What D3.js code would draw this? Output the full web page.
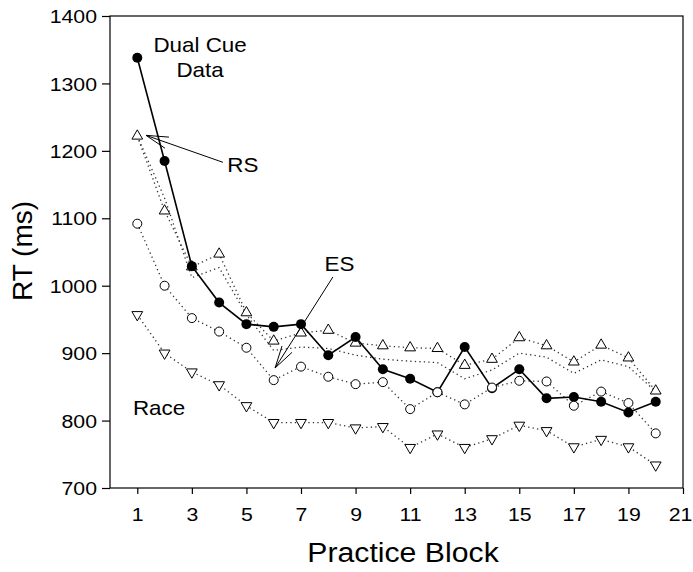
<!DOCTYPE html>
<html>
<head>
<meta charset="utf-8">
<script src="https://cdn.jsdelivr.net/npm/d3@7"></script>
<style>
  html, body { margin: 0; padding: 0; background: #fff; }
  svg { display: block; font-family: "Liberation Sans", Arial, sans-serif; }
</style>
</head>
<body>
<svg id="chart" width="693" height="572"></svg>
<script>
// Practice blocks 1..20
const blocks = d3.range(1, 21);

// Mean RT (ms) per block
const dualCueData = [1338, 1185, 1029, 975, 943, 939, 943, 897, 924, 876, 862, 842, 909, 848, 876, 833, 835, 828, 812, 828];
const rsModel     = [1222, 1111, 1028, 1047, 960, 918, 930, 934, 915, 911, 908, 907, 882, 891, 923, 911, 887, 912, 893, 844];
const rsModelAlt  = [1222, 1130, 1012, 1027, 957, 904, 909, 907, 897, 891, 888, 886, 862, 875, 900, 894, 870, 890, 880, 843];
const esModel     = [1092, 1000, 952, 932, 908, 860, 880, 865, 854, 857, 817, 842, 824, 849, 859, 858, 822, 843, 826, 781];
const raceModel   = [957, 900, 872, 853, 822, 797, 797, 797, 789, 791, 760, 780, 760, 773, 793, 785, 761, 772, 761, 734];

const xTicks = [1, 3, 5, 7, 9, 11, 13, 15, 17, 19, 21];
const yTicks = [700, 800, 900, 1000, 1100, 1200, 1300, 1400];

const svg = d3.select("#chart");
const plotLeft = 110, plotRight = 683, plotTop = 16, plotBottom = 488;
const stretch = 1.12; // horizontal text stretch

const x = d3.scaleLinear().domain([0, 21]).range([plotLeft, plotRight]);
const y = d3.scaleLinear().domain([700, 1400]).range([plotBottom, plotTop]);

// frame
svg.append("rect")
  .attr("x", plotLeft).attr("y", plotTop)
  .attr("width", plotRight - plotLeft).attr("height", plotBottom - plotTop)
  .attr("fill", "none").attr("stroke", "#000").attr("stroke-width", 1.2);

// y axis
const yAxis = svg.append("g")
  .attr("transform", `translate(${plotLeft},0)`)
  .call(d3.axisLeft(y).tickValues(yTicks).tickSize(8).tickPadding(5).tickFormat(d3.format("d")));
yAxis.select(".domain").remove();
yAxis.selectAll(".tick line").attr("stroke", "#000").attr("stroke-width", 1.2);
yAxis.selectAll(".tick text")
  .attr("font-size", 19).attr("fill", "#000")
  .attr("font-family", "Liberation Sans, Arial, sans-serif")
  .attr("dy", "0.35em")
  .each(function () {
    const t = d3.select(this);
    t.attr("transform", `translate(${+t.attr("x")},0) scale(${stretch},1)`).attr("x", 0);
  });

// x axis
const xAxis = svg.append("g")
  .attr("transform", `translate(0,${plotBottom})`)
  .call(d3.axisBottom(x).tickValues(xTicks).tickSize(6).tickPadding(14).tickFormat(d3.format("d")));
xAxis.select(".domain").remove();
xAxis.selectAll(".tick line").attr("stroke", "#000").attr("stroke-width", 1.2);
xAxis.selectAll(".tick text")
  .attr("font-size", 19).attr("fill", "#000")
  .attr("font-family", "Liberation Sans, Arial, sans-serif")
  .each(function (d) {
    const t = d3.select(this);
    const shift = d === 21 ? -3 : 0; // keep the last label inside the page
    t.attr("transform", `translate(${shift},${+t.attr("y")}) scale(${stretch},1)`).attr("y", 0);
  });

// axis titles
svg.append("text")
  .attr("transform", `translate(403,562) scale(${stretch},1)`)
  .attr("text-anchor", "middle").attr("font-size", 27).text("Practice Block");
svg.append("text")
  .attr("transform", `translate(32,251) rotate(-90)`)
  .attr("text-anchor", "middle").attr("font-size", 28).text("RT (ms)");

// lines
const line = d3.line().x((d, i) => x(blocks[i])).y(d => y(d));
const dotted = { stroke: "#333", width: 1.3, dash: "1.3,3.2" };

[rsModelAlt, rsModel, esModel, raceModel].forEach(series => {
  svg.append("path").datum(series)
    .attr("d", line).attr("fill", "none")
    .attr("stroke", dotted.stroke).attr("stroke-width", dotted.width)
    .attr("stroke-dasharray", dotted.dash);
});

svg.append("path").datum(dualCueData)
  .attr("d", line).attr("fill", "none")
  .attr("stroke", "#000").attr("stroke-width", 1.6);

// markers
const triUp = d3.symbol().type(d3.symbolTriangle).size(50);
svg.append("g").selectAll("path").data(rsModel).join("path")
  .attr("d", triUp)
  .attr("transform", (d, i) => `translate(${x(blocks[i])},${y(d)})`)
  .attr("fill", "#fff").attr("stroke", "#000").attr("stroke-width", 1);

svg.append("g").selectAll("path").data(raceModel).join("path")
  .attr("d", triUp)
  .attr("transform", (d, i) => `translate(${x(blocks[i])},${y(d)}) rotate(180)`)
  .attr("fill", "#fff").attr("stroke", "#000").attr("stroke-width", 1);

svg.append("g").selectAll("circle").data(dualCueData).join("circle")
  .attr("cx", (d, i) => x(blocks[i])).attr("cy", d => y(d)).attr("r", 5)
  .attr("fill", "#000");

svg.append("g").selectAll("circle").data(esModel).join("circle")
  .attr("cx", (d, i) => x(blocks[i])).attr("cy", d => y(d)).attr("r", 4.5)
  .attr("fill", "#fff").attr("stroke", "#000").attr("stroke-width", 1);

// annotations
function label(txt, bx, by, anchor) {
  svg.append("text")
    .attr("transform", `translate(${x(bx)},${y(by)}) scale(${stretch},1)`)
    .attr("text-anchor", anchor || "start").attr("font-size", 20).text(txt);
}
label("Dual Cue", 3.3, 1347, "middle");
label("Data", 3.3, 1310, "middle");
label("RS", 4.3, 1168);
label("ES", 7.86, 1022);
label("Race", 0.84, 808);

function arrow(x0, y0, x1, y1) {
  const px0 = x(x0), py0 = y(y0), px1 = x(x1), py1 = y(y1);
  const ang = Math.atan2(py0 - py1, px0 - px1);
  const head = 23, spread = 0.26;
  const g = svg.append("g").attr("stroke", "#000").attr("stroke-width", 1).attr("fill", "none");
  g.append("line").attr("x1", px0).attr("y1", py0).attr("x2", px1).attr("y2", py1);
  [-spread, spread].forEach(s => {
    g.append("line").attr("x1", px1).attr("y1", py1)
      .attr("x2", px1 + head * Math.cos(ang + s))
      .attr("y2", py1 + head * Math.sin(ang + s));
  });
}
arrow(4.14, 1183, 1.32, 1223);
arrow(8.17, 1013, 6.05, 878);
</script>
</body>
</html>
